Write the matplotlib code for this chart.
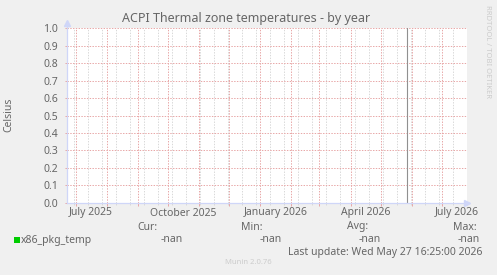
import matplotlib
matplotlib.use("Agg")
import matplotlib.pyplot as plt
import matplotlib.transforms as mtransforms
from datetime import datetime, timedelta
import numpy as np

# data (the series has no values at all -> nan)
start = datetime(2025, 6, 21, 16, 25)
end = datetime(2026, 7, 26, 16, 25)
now = datetime(2026, 5, 27, 16, 25)
sample_dates = [start, now]
x86_pkg_temp = [np.nan, np.nan]

month_labels = ["July 2025", "October 2025", "January 2026", "April 2026", "July 2026"]
label_dates = [datetime(2025, 7, 16), datetime(2025, 10, 16), datetime(2026, 1, 16),
               datetime(2026, 4, 16), datetime(2026, 7, 16)]
legend_stats = ["Cur:", "Min:", "Avg:", "Max:"]
stat_values = ["-nan", "-nan", "-nan", "-nan"]

W, H = 497, 275
BG = "#F0F0F0"
FONT = "#666666"
AXIS = "#CFD6F8"
MGRID = "#E8A8A8"
GRID = "#D9D9D9"

plt.rcParams["font.family"] = ["Noto Sans", "DejaVu Sans"]
plt.rcParams["lines.scale_dashes"] = False

fig = plt.figure(figsize=(W / 100, H / 100), dpi=100, facecolor=BG)

def fx(px):
    return px / W

def fy(py):
    return 1 - py / H

left, right, top, bottom = 66.5, 467.5, 28.3, 202.7
ax = fig.add_axes([fx(left), fy(bottom), fx(right - left), (bottom - top) / H])
ax.set_facecolor("white")

ax.plot(sample_dates, x86_pkg_temp, color="#00CC00", lw=1)
ax.axvline(now, color="#909090", lw=0.8, snap=True)

ax.set_xlim(start, end)
ax.set_ylim(0, 1.0)

# grid: red on month starts, grey every two weeks
months = []
d = datetime(2025, 7, 1)
while d < end:
    months.append(d)
    d = datetime(d.year + (d.month // 12), d.month % 12 + 1, 1)
weeks = []
d = datetime(2025, 6, 29)
while d < end:
    weeks.append(d)
    d += timedelta(days=14)

ax.set_xticks(months)
ax.set_xticks(weeks, minor=True)
ax.set_xticklabels([])
ax.set_yticks(np.arange(0, 1.01, 0.1))
ax.set_yticklabels(["%.1f" % v for v in np.arange(0, 1.01, 0.1)])

dots = (0, (1, 1))
ax.grid(True, which="minor", axis="x", color=GRID, lw=0.72, linestyle=dots)
ax.grid(True, which="major", axis="x", color=MGRID, lw=0.72, linestyle=dots)
ax.grid(True, which="major", axis="y", color=MGRID, lw=0.72, linestyle=dots)
ax.set_axisbelow(True)

ax.tick_params(axis="x", which="major", length=2.5, width=0.72, color=MGRID, direction="out")
ax.tick_params(axis="x", which="minor", length=1.5, width=0.72, color=GRID, direction="out")
ax.tick_params(axis="y", which="major", length=1.5, width=0.72, color=MGRID, direction="out",
               labelsize=7.5, labelcolor=FONT, pad=4.5)

for s in ["top", "right"]:
    ax.spines[s].set_visible(False)
for s in ["left", "bottom"]:
    ax.spines[s].set_color(AXIS)
    ax.spines[s].set_linewidth(0.9)

# arrows on the axes
ax.plot([1.0], [0], marker=">", color=AXIS, markersize=5, transform=ax.transAxes, clip_on=False)
ax.plot([0], [1.03], marker="^", color=AXIS, markersize=5, transform=ax.transAxes, clip_on=False)
ax.plot([0, 0], [1.0, 1.03], color=AXIS, lw=0.9, transform=ax.transAxes, clip_on=False)

# month labels centred on the middle of the month
trans = mtransforms.blended_transform_factory(ax.transData, fig.transFigure)
for lab, dt in zip(month_labels, label_dates):
    ax.text(dt, fy(213), lab, transform=trans, ha="center", va="center",
            fontsize=7.5, color=FONT)

fig.text(fx(246), fy(18.5), "ACPI Thermal zone temperatures - by year",
         ha="center", va="center", fontsize=9, color=FONT)
fig.text(fx(9), fy(115), "Celsius", rotation=90, ha="center", va="center",
         fontsize=7.5, color=FONT)
fig.text(fx(487), fy(5), "RRDTOOL / TOBI OETIKER", rotation=270, ha="center", va="top",
         fontsize=5.5, color="#CCCCCC")

# legend
fig.patches.append(plt.Rectangle((fx(14), fy(243)), fx(6), 6 / H, transform=fig.transFigure,
                                 facecolor="#00CC00", edgecolor="none"))
fig.text(fx(20.5), fy(240), "x86_pkg_temp", ha="left", va="center", fontsize=7.5, color=FONT)
head_x = [157, 263, 368, 477]
val_x = [183, 282, 381, 480]
for lab, hx in zip(legend_stats, head_x):
    fig.text(fx(hx), fy(227), lab, ha="right", va="center", fontsize=7.5, color=FONT)
for v, vx in zip(stat_values, val_x):
    fig.text(fx(vx), fy(240), v, ha="right", va="center", fontsize=7.5, color=FONT)
fig.text(fx(482), fy(252), "Last update: Wed May 27 16:25:00 2026", ha="right", va="center",
         fontsize=7.5, color=FONT)
fig.text(fx(248), fy(263), "Munin 2.0.76", ha="center", va="center", fontsize=5.5, color="#CCCCCC")

fig.savefig("out.png", dpi=100, facecolor=BG)
